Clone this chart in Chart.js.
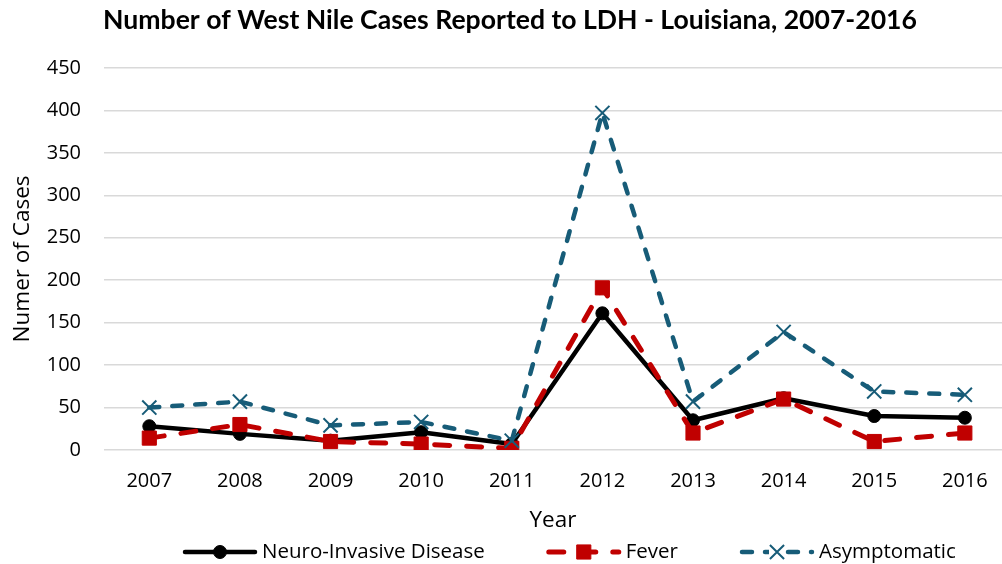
<!DOCTYPE html>
<html lang="en">
<head>
    <meta charset="UTF-8">
    <title>West Nile Cases - Louisiana</title>
    <script src="https://cdn.jsdelivr.net/npm/chart.js"></script>
    <style>
        body { margin: 0; background: #fff; }
        #wrap { width: 1002px; height: 564px; position: relative; }
    </style>
</head>
<body>
    <div id="wrap"><canvas id="chart"></canvas></div>

    <script>
        const years = [2007, 2008, 2009, 2010, 2011, 2012, 2013, 2014, 2015, 2016];
        const neuroInvasive = [28, 19, 11, 21, 7, 161, 35, 61, 40, 38];
        const fever = [14, 30, 10, 7, 2, 191, 20, 60, 10, 20];
        const asymptomatic = [50, 57, 29, 33, 11, 397, 57, 139, 69, 65];
        const seriesNames = ['Neuro-Invasive Disease', 'Fever', 'Asymptomatic'];

        const FONT = "'Open Sans', sans-serif";

        function toPoints(values) {
            return values.map((v, i) => ({ x: years[i], y: v }));
        }

        // legend drawn by hand so each entry shows line + marker like the original
        const lineLegend = {
            id: 'lineLegend',
            afterLayout(chart) {
                // original title sits a little right of the canvas centre
                if (chart.titleBlock) chart.titleBlock.left = 18;
            },
            afterDraw(chart) {
                const ctx = chart.ctx;
                const y = 552;
                let x = 185;
                ctx.save();
                ctx.font = '20.5px ' + FONT;
                ctx.textBaseline = 'middle';
                chart.data.datasets.slice().sort((a, b) => a.legendIndex - b.legendIndex).forEach(ds => {
                    const sample = 70;
                    ctx.save();
                    ctx.strokeStyle = ds.borderColor;
                    ctx.lineWidth = ds.borderWidth;
                    ctx.lineCap = 'round';
                    ctx.setLineDash(ds.borderDash || []);
                    ctx.beginPath();
                    ctx.moveTo(x, y);
                    ctx.lineTo(x + sample, y);
                    ctx.stroke();
                    ctx.restore();
                    ctx.save();
                    ctx.fillStyle = ds.pointBackgroundColor;
                    ctx.strokeStyle = ds.pointBorderColor;
                    ctx.lineWidth = ds.pointBorderWidth;
                    if (ds.pointStyle === 'crossRot') {
                        ctx.fillStyle = '#fff';
                        ctx.fillRect(x + sample / 2 - 8, y - 9, 16, 18);
                    }
                    Chart.helpers.drawPoint(ctx, { pointStyle: ds.pointStyle, radius: ds.pointRadius, rotation: 0, borderWidth: ds.pointBorderWidth }, x + sample / 2, y);
                    ctx.restore();
                    ctx.fillStyle = '#000';
                    ctx.fillText(ds.label, x + sample + 7, y);
                    x += sample + 7 + ctx.measureText(ds.label).width + 64;
                });
                ctx.restore();
            }
        };

        new Chart(document.getElementById('chart').getContext('2d'), {
            type: 'line',
            data: {
                datasets: [
                    {
                        label: seriesNames[0], legendIndex: 0, order: 3,
                        data: toPoints(neuroInvasive),
                        borderColor: '#000000', borderWidth: 4.5,
                        borderCapStyle: 'round', borderJoinStyle: 'round',
                        pointStyle: 'circle', pointRadius: 6.5,
                        pointBackgroundColor: '#000000', pointBorderColor: '#000000', pointBorderWidth: 1
                    },
                    {
                        label: seriesNames[1], legendIndex: 1, order: 2,
                        data: toPoints(fever),
                        borderColor: '#C00000', borderWidth: 5,
                        borderDash: [15, 17],
                        borderCapStyle: 'round', borderJoinStyle: 'round',
                        pointStyle: 'rect', pointRadius: 10,
                        pointBackgroundColor: '#C00000', pointBorderColor: '#C00000', pointBorderWidth: 1
                    },
                    {
                        label: seriesNames[2], legendIndex: 2, order: 1,
                        data: toPoints(asymptomatic),
                        borderColor: '#175C78', borderWidth: 4.5,
                        borderDash: [10, 13],
                        borderCapStyle: 'round', borderJoinStyle: 'round',
                        pointStyle: 'crossRot', pointRadius: 10,
                        pointBackgroundColor: '#175C78', pointBorderColor: '#175C78', pointBorderWidth: 2
                    }
                ]
            },
            options: {
                responsive: true,
                maintainAspectRatio: false,
                animation: false,
                layout: { padding: 0, autoPadding: false },
                plugins: {
                    legend: { display: false },
                    tooltip: { enabled: false },
                    title: {
                        display: true,
                        text: 'Number of West Nile Cases Reported to LDH - Louisiana, 2007-2016',
                        color: '#000',
                        font: { family: 'Lato, sans-serif', size: 26.6, weight: 'bold' },
                        padding: { top: 4, bottom: 32 }
                    }
                },
                scales: {
                    x: {
                        type: 'linear',
                        min: 2006.5,
                        max: 2016.41,
                        grid: { display: false, drawTicks: false },
                        border: { display: false },
                        afterBuildTicks: scale => { scale.ticks = years.map(v => ({ value: v })); },
                        afterFit: scale => { scale.paddingLeft = 0; scale.paddingRight = 0; },
                        ticks: {
                            color: '#000', padding: 19,
                            font: { family: FONT, size: 20 },
                            callback: v => String(v)
                        },
                        title: {
                            display: true, text: 'Year', color: '#000',
                            font: { family: FONT, size: 22.5 },
                            padding: { top: -5, bottom: 30 }
                        }
                    },
                    y: {
                        min: 0,
                        max: 450,
                        grid: { color: '#D9D9D9', lineWidth: 1.5, drawTicks: false },
                        border: { display: false },
                        afterFit: scale => { scale.width = 104; },
                        ticks: {
                            stepSize: 50, color: '#000', padding: 23,
                            font: { family: FONT, size: 20 }
                        },
                        title: {
                            display: true, text: 'Numer of Cases', color: '#000',
                            font: { family: FONT, size: 22.5 },
                            padding: { top: 9, bottom: 9 }
                        }
                    }
                }
            },
            plugins: [lineLegend]
        });
    </script>
</body>
</html>
